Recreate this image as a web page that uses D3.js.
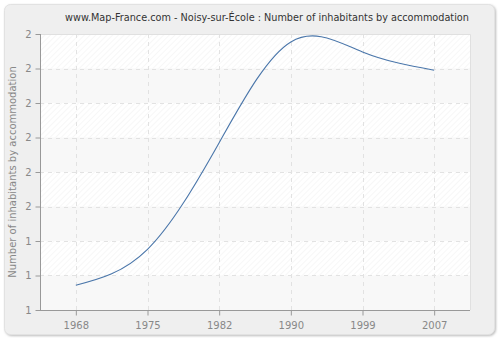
<!DOCTYPE html>
<html>
<head>
<meta charset="utf-8">
<script src="https://cdn.jsdelivr.net/npm/d3@7"></script>
<style>
  body { margin: 0; background: #fff; }
  svg text { font-family: "DejaVu Sans", Verdana, sans-serif; }
</style>
</head>
<body>
<div id="chart"></div>
<script>
// data
const years = ["1968", "1975", "1982", "1990", "1999", "2007"];
const values = [1.272, 1.376, 1.685, 1.977, 1.948, 1.895];
const yTickValues = [1.2, 1.3, 1.4, 1.5, 1.6, 1.7, 1.8, 1.9, 2.0];
const yTickLabels = ["1", "1", "1", "2", "2", "2", "2", "2", "2"];

const W = 500, H = 340;
const margin = {top: 34, right: 30, bottom: 30, left: 40};

const svg = d3.select("#chart").append("svg")
    .attr("width", W)
    .attr("height", H);

// hatching pattern
const defs = svg.append("defs");
const pat = defs.append("pattern")
    .attr("id", "hatch")
    .attr("patternUnits", "userSpaceOnUse")
    .attr("width", 4)
    .attr("height", 4)
    .attr("patternTransform", "rotate(45)");
pat.append("line")
    .attr("x1", 0).attr("y1", 0)
    .attr("x2", 0).attr("y2", 4)
    .attr("stroke", "#efefef")
    .attr("stroke-width", 1);

const filter = defs.append("filter").attr("id", "shadow");
filter.append("feDropShadow")
    .attr("dx", 1).attr("dy", 1).attr("stdDeviation", 1)
    .attr("flood-color", "#bbb");

// outer panel
svg.append("rect")
    .attr("x", 4.5).attr("y", 4.5)
    .attr("width", W - 10).attr("height", H - 10)
    .attr("rx", 6)
    .attr("fill", "#efefef")
    .attr("stroke", "#e2e2e2")
    .attr("filter", "url(#shadow)");

const x0 = margin.left, x1 = W - margin.right;
const y0 = H - margin.bottom, y1 = margin.top;

const x = d3.scalePoint().domain(years).range([x0, x1]).padding(0.5);
const y = d3.scaleLinear().domain([1.2, 2.0]).range([y0, y1]);

// plot background
svg.append("rect")
    .attr("x", x0).attr("y", y1)
    .attr("width", x1 - x0).attr("height", y0 - y1)
    .attr("fill", "#fff");

// alternating bands
svg.selectAll(".band")
    .data(yTickValues.slice(0, -1))
    .enter().append("rect")
    .attr("class", "band")
    .attr("x", x0)
    .attr("width", x1 - x0)
    .attr("y", (d, i) => y(yTickValues[i + 1]))
    .attr("height", (d, i) => y(d) - y(yTickValues[i + 1]))
    .attr("fill", (d, i) => i % 2 === 0 ? "#f8f8f8" : "url(#hatch)");

// grid
svg.selectAll(".hgrid")
    .data(yTickValues)
    .enter().append("line")
    .attr("class", "hgrid")
    .attr("x1", x0).attr("x2", x1)
    .attr("y1", d => Math.round(y(d)) + 0.5)
    .attr("y2", d => Math.round(y(d)) + 0.5)
    .attr("stroke", "#e2e2e2")
    .attr("stroke-dasharray", "4,4");

svg.selectAll(".vgrid")
    .data(years)
    .enter().append("line")
    .attr("class", "vgrid")
    .attr("x1", d => Math.round(x(d)) + 0.5)
    .attr("x2", d => Math.round(x(d)) + 0.5)
    .attr("y1", y1).attr("y2", y0)
    .attr("stroke", "#e2e2e2")
    .attr("stroke-dasharray", "4,4");

// plot border (top/right)
svg.append("path")
    .attr("d", `M${x0},${y1 + 0.5}H${x1 + 0.5}V${y0}`)
    .attr("fill", "none")
    .attr("stroke", "#e0e0e0");

// axes
const yAxis = d3.axisLeft(y)
    .tickValues(yTickValues)
    .tickFormat((d, i) => yTickLabels[i])
    .tickSize(5)
    .tickPadding(4);
const gy = svg.append("g")
    .attr("transform", `translate(${x0 + 0.5},0)`)
    .call(yAxis);

const xAxis = d3.axisBottom(x).tickSize(5).tickPadding(6);
const gx = svg.append("g")
    .attr("transform", `translate(0,${y0 + 0.5})`)
    .call(xAxis);

[gx, gy].forEach(g => {
    g.selectAll("line").attr("stroke", "#999");
    g.selectAll("text").attr("fill", "#888").style("font-size", "10px");
});
gy.select(".domain").attr("stroke", "#999").attr("d", `M0,${y1}V${y0}`);
gx.select(".domain").attr("stroke", "#999").attr("d", `M${x0},0H${x1}`);

// line
const line = d3.line()
    .x((d, i) => x(years[i]))
    .y(d => y(d))
    .curve(d3.curveNatural);

svg.append("path")
    .datum(values)
    .attr("d", line)
    .attr("fill", "none")
    .attr("stroke", "#4a76aa")
    .attr("stroke-width", 1.1);

// title
svg.append("text")
    .attr("x", 267).attr("y", 21)
    .attr("text-anchor", "middle")
    .attr("fill", "#333")
    .style("font-size", "9.7px")
    .text("www.Map-France.com - Noisy-sur-École : Number of inhabitants by accommodation");

// y label
svg.append("text")
    .attr("transform", `translate(16,${(y0 + y1) / 2}) rotate(-90)`)
    .attr("text-anchor", "middle")
    .attr("fill", "#888")
    .style("font-size", "10px")
    .text("Number of inhabitants by accommodation");
</script>
</body>
</html>
